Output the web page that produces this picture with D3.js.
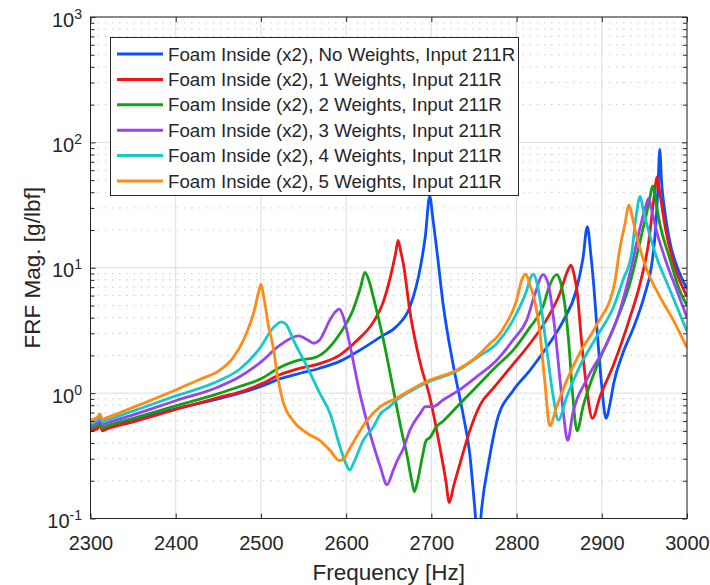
<!DOCTYPE html>
<html>
<head>
<meta charset="utf-8">
<script src="https://cdn.jsdelivr.net/npm/d3@7"></script>
<style>
body { margin: 0; background: #fff; }
svg { display: block; }
text { font-family: "Liberation Sans", Arial, Helvetica, sans-serif; fill: #262626; }
</style>
</head>
<body>
<svg id="chart"></svg>
<script>
var w = 710;
var h = 585;

// tick values
const freqTicks = [2300, 2400, 2500, 2600, 2700, 2800, 2900, 3000];
const magDecades = [0.1, 1, 10, 100, 1000];

const legendLabels = [
    "Foam Inside (x2), No Weights, Input 211R",
    "Foam Inside (x2), 1 Weights, Input 211R",
    "Foam Inside (x2), 2 Weights, Input 211R",
    "Foam Inside (x2), 3 Weights, Input 211R",
    "Foam Inside (x2), 4 Weights, Input 211R",
    "Foam Inside (x2), 5 Weights, Input 211R"
];

// [frequency Hz, FRF magnitude g/lbf]
const noWeights = [[2300,0.51],[2308,0.54],[2311,0.58],[2314,0.52],[2320,0.54],[2350,0.61],[2400,0.75],[2450,0.9],[2475,1.0],[2500,1.13],[2522,1.3],[2546,1.44],[2569,1.58],[2593,1.8],[2616,2.2],[2640,2.8],[2659,3.4],[2675,4.9],[2687,10],[2693,18],[2698,37],[2702,24],[2706,14.6],[2714,5],[2726,1.63],[2737,0.69],[2745,0.33],[2751,0.12],[2755,0.06],[2759,0.12],[2768,0.3],[2777,0.6],[2796,1.05],[2815,1.5],[2835,2.3],[2855,3.8],[2870,6.6],[2878,12],[2883,21.3],[2887,13],[2890,8],[2896,2.35],[2900,1.13],[2905,0.63],[2910,0.85],[2914,1.2],[2925,2.1],[2937,3.3],[2950,6],[2958,10],[2963,20],[2966,45],[2968,88],[2970,50],[2974,28],[2980,16],[2990,9.5],[3000,6.8]];

const oneWeight = [[2300,0.5],[2308,0.52],[2311,0.56],[2314,0.5],[2320,0.52],[2350,0.59],[2400,0.74],[2450,0.92],[2475,1.02],[2500,1.18],[2522,1.4],[2546,1.58],[2569,1.72],[2592,2.0],[2612,2.6],[2632,3.7],[2643,5.2],[2652,8.5],[2658,13],[2661,16.5],[2664,13.5],[2667,10.9],[2675,4.4],[2687,1.73],[2698,0.94],[2710,0.37],[2717,0.2],[2721,0.134],[2726,0.18],[2734,0.28],[2745,0.5],[2757,0.8],[2773,1.1],[2796,1.7],[2816,2.5],[2835,3.84],[2851,6.3],[2860,9.5],[2864,10.5],[2868,8.5],[2871,6.5],[2876,2.7],[2882,1.13],[2889,0.63],[2898,0.94],[2914,1.7],[2933,4.0],[2945,7.5],[2955,16],[2961,35],[2965,53],[2968,40],[2975,20],[2985,10.5],[3000,5.9]];

const twoWeights = [[2300,0.53],[2308,0.55],[2311,0.6],[2314,0.53],[2320,0.55],[2350,0.63],[2400,0.79],[2450,0.99],[2475,1.13],[2500,1.3],[2522,1.6],[2546,1.84],[2561,1.9],[2577,2.2],[2593,3.0],[2608,4.6],[2617,7],[2622,9.2],[2627,7.8],[2632,5.8],[2643,2.8],[2655,1.1],[2665,0.5],[2671,0.33],[2677,0.2],[2680,0.164],[2684,0.2],[2689,0.3],[2694,0.42],[2698,0.44],[2706,0.54],[2714,0.6],[2734,0.83],[2757,1.2],[2776,1.63],[2796,2.2],[2815,3.3],[2831,4.9],[2839,7.3],[2847,8.8],[2852,7.5],[2855,6.0],[2861,2.66],[2866,0.94],[2871,0.5],[2878,0.78],[2894,1.63],[2913,3.2],[2933,7.5],[2948,20],[2955,32],[2960,45],[2963,35],[2968,22.6],[2980,11.7],[2991,6.7],[3000,5.0]];

const threeWeights = [[2300,0.55],[2308,0.58],[2311,0.63],[2314,0.56],[2320,0.58],[2350,0.67],[2400,0.87],[2450,1.12],[2475,1.35],[2499,1.75],[2522,2.4],[2544,2.86],[2555,2.65],[2562,2.5],[2569,2.66],[2581,3.84],[2588,4.5],[2592,4.67],[2597,4],[2604,2.5],[2616,1.0],[2628,0.48],[2640,0.26],[2648,0.186],[2655,0.24],[2660,0.29],[2667,0.36],[2675,0.51],[2687,0.69],[2693,0.78],[2702,0.78],[2714,0.885],[2733,1.06],[2753,1.35],[2777,1.84],[2796,2.66],[2812,3.84],[2822,6.3],[2831,8.8],[2837,7.5],[2845,3.2],[2851,1.27],[2855,0.69],[2860,0.42],[2866,0.69],[2882,1.27],[2906,2.5],[2919,4.1],[2933,9],[2945,21],[2951,30],[2955,35.8],[2959,28],[2964,20],[2976,10.9],[2988,6.6],[3000,4.0]];

const fourWeights = [[2300,0.58],[2308,0.61],[2311,0.66],[2314,0.59],[2320,0.61],[2350,0.72],[2400,0.95],[2450,1.25],[2475,1.55],[2499,2.3],[2514,3.3],[2524,3.7],[2530,3.5],[2538,2.66],[2554,1.63],[2569,1.0],[2581,0.69],[2593,0.37],[2600,0.27],[2604,0.244],[2610,0.29],[2620,0.42],[2632,0.54],[2640,0.68],[2651,0.78],[2659,0.88],[2675,1.03],[2690,1.17],[2698,1.24],[2730,1.5],[2755,1.95],[2777,2.5],[2796,3.84],[2812,6.65],[2817,8.5],[2820,8.9],[2824,7.5],[2827,5.9],[2835,2.35],[2843,0.94],[2849,0.61],[2859,0.94],[2874,1.63],[2894,2.82],[2914,4.9],[2925,8],[2935,13],[2940,25],[2945,37],[2949,28],[2953,22],[2964,12.3],[2980,6.65],[3000,3.1]];

const fiveWeights = [[2300,0.61],[2308,0.64],[2311,0.68],[2314,0.62],[2320,0.64],[2350,0.77],[2400,1.06],[2430,1.3],[2450,1.5],[2467,1.9],[2483,3.0],[2492,4.5],[2497,6.3],[2500,7.4],[2504,5.5],[2509,3.4],[2514,2.4],[2520,1.3],[2526,0.85],[2538,0.6],[2554,0.48],[2569,0.42],[2581,0.35],[2592,0.29],[2597,0.3],[2605,0.37],[2624,0.6],[2640,0.78],[2659,0.91],[2690,1.2],[2698,1.27],[2730,1.53],[2755,2.0],[2769,2.5],[2777,2.8],[2788,3.6],[2800,5.5],[2806,8],[2811,8.9],[2815,7.5],[2820,5.9],[2827,3.2],[2833,1.27],[2839,0.55],[2847,0.78],[2859,1.27],[2874,2.08],[2894,3.5],[2915,7.5],[2921,14],[2927,22],[2932,31.6],[2936,25],[2941,17.7],[2953,9.6],[2968,5.9],[2984,3.8],[3000,2.3]];

const allSeries = [noWeights, oneWeight, twoWeights, threeWeights, fourWeights, fiveWeights];
const colors = ["#0a50ff", "#f01414", "#14a014", "#9a44f0", "#16c8c8", "#ff8a14"];

let svg = d3.select("#chart")
    .attr("width", w)
    .attr("height", h);

svg.append("rect").attr("width", w).attr("height", h).attr("fill", "#fff");

let xScale = d3.scaleLinear().domain([2300, 3000]).range([90.5, 687]);
let yScale = d3.scaleLog().domain([0.1, 1000]).range([518.5, 17]);
let [x0, x1] = xScale.range();
let [y0, y1] = yScale.range();

// minor log ticks 2..9 per decade
let minorVals = [];
magDecades.slice(0, -1).forEach(d => {
    for (let k = 2; k <= 9; k++) minorVals.push(d * k);
});

//grid
svg.append("g")
    .selectAll("line")
    .data(minorVals)
    .join("line")
    .attr("x1", x0).attr("x2", x1)
    .attr("y1", d => yScale(d)).attr("y2", d => yScale(d))
    .attr("stroke", "#bdbdbd")
    .attr("stroke-width", 1)
    .attr("stroke-dasharray", "1.2,6");
svg.append("g")
    .selectAll("line")
    .data(magDecades)
    .join("line")
    .attr("x1", x0).attr("x2", x1)
    .attr("y1", d => yScale(d)).attr("y2", d => yScale(d))
    .attr("stroke", "#dcdcdc");
svg.append("g")
    .selectAll("line")
    .data(freqTicks)
    .join("line")
    .attr("x1", d => xScale(d)).attr("x2", d => xScale(d))
    .attr("y1", y0).attr("y2", y1)
    .attr("stroke", "#dcdcdc");

//curves
svg.append("clipPath").attr("id", "plotclip")
    .append("rect")
    .attr("x", x0).attr("y", y1)
    .attr("width", x1 - x0).attr("height", y0 - y1);

let line = d3.line()
    .x(d => xScale(d[0]))
    .y(d => yScale(d[1]))
    .curve(d3.curveMonotoneX);

svg.append("g")
    .attr("clip-path", "url(#plotclip)")
    .selectAll("path")
    .data(allSeries)
    .join("path")
    .attr("d", line)
    .attr("fill", "none")
    .attr("stroke", (d, i) => colors[i])
    .attr("stroke-width", 2.8)
    .attr("stroke-linejoin", "round");

//axes
function styleAxis(g) {
    g.attr("font-size", null).attr("font-family", null);
    g.select(".domain").remove();
    g.selectAll(".tick line").attr("stroke", "#262626");
}

let xAxis = svg.append("g")
    .attr("transform", `translate(0, ${y0})`)
    .call(d3.axisBottom(xScale).tickValues(freqTicks).tickSizeInner(-5).tickSizeOuter(0).tickPadding(17).tickFormat(d3.format("d")))
    .call(styleAxis);
xAxis.selectAll("text").style("font-size", "20px");

svg.append("g")
    .attr("transform", `translate(0, ${y1})`)
    .call(d3.axisTop(xScale).tickValues(freqTicks).tickSizeInner(-5).tickSizeOuter(0).tickFormat(""))
    .call(styleAxis);

let yAxis = svg.append("g")
    .attr("transform", `translate(${x0}, 0)`)
    .call(d3.axisLeft(yScale).tickValues(magDecades).tickSizeInner(-5).tickSizeOuter(0).tickPadding(8.5).tickFormat(""))
    .call(styleAxis);
yAxis.selectAll(".tick text").each(function (d) {
    let t = d3.select(this).attr("dy", "0.45em").style("font-size", "20px");
    t.append("tspan").text("10");
    t.append("tspan")
        .attr("dy", "-8")
        .style("font-size", "14px")
        .text(Math.round(Math.log10(d)));
});

svg.append("g")
    .attr("transform", `translate(${x0}, 0)`)
    .call(d3.axisLeft(yScale).tickValues(minorVals).tickSizeInner(-4).tickSizeOuter(0).tickFormat(""))
    .call(styleAxis);
svg.append("g")
    .attr("transform", `translate(${x1}, 0)`)
    .call(d3.axisRight(yScale).tickValues(magDecades).tickSizeInner(-5).tickSizeOuter(0).tickFormat(""))
    .call(styleAxis);
svg.append("g")
    .attr("transform", `translate(${x1}, 0)`)
    .call(d3.axisRight(yScale).tickValues(minorVals).tickSizeInner(-4).tickSizeOuter(0).tickFormat(""))
    .call(styleAxis);

svg.append("rect")
    .attr("x", x0).attr("y", y1)
    .attr("width", x1 - x0).attr("height", y0 - y1)
    .attr("fill", "none")
    .attr("stroke", "#262626")
    .attr("stroke-width", 1);

//axis labels
svg.append("text")
    .attr("x", (x0 + x1) / 2)
    .attr("y", 580)
    .attr("text-anchor", "middle")
    .style("font-size", "22.5px")
    .text("Frequency [Hz]");
svg.append("g")
    .attr("transform", `translate(40, ${(y0 + y1) / 2}) rotate(-90)`)
    .append("text")
    .attr("text-anchor", "middle")
    .style("font-size", "22.5px")
    .text("FRF Mag. [g/lbf]");

//legend
let legend = svg.append("g");
legend.append("rect")
    .attr("x", 110.5).attr("y", 37.5)
    .attr("width", 408).attr("height", 158)
    .attr("fill", "#fff")
    .attr("stroke", "#262626")
    .attr("stroke-width", 1);
let rows = legend.selectAll("g.row")
    .data(legendLabels)
    .join("g")
    .attr("class", "row")
    .attr("transform", (d, i) => `translate(0, ${54 + i * 25.4})`);
rows.append("line")
    .attr("x1", 117).attr("x2", 163)
    .attr("stroke", (d, i) => colors[i])
    .attr("stroke-width", 3);
rows.append("text")
    .attr("x", 168)
    .attr("dy", "0.35em")
    .style("font-size", "18.7px")
    .text(d => d);
</script>
</body>
</html>
